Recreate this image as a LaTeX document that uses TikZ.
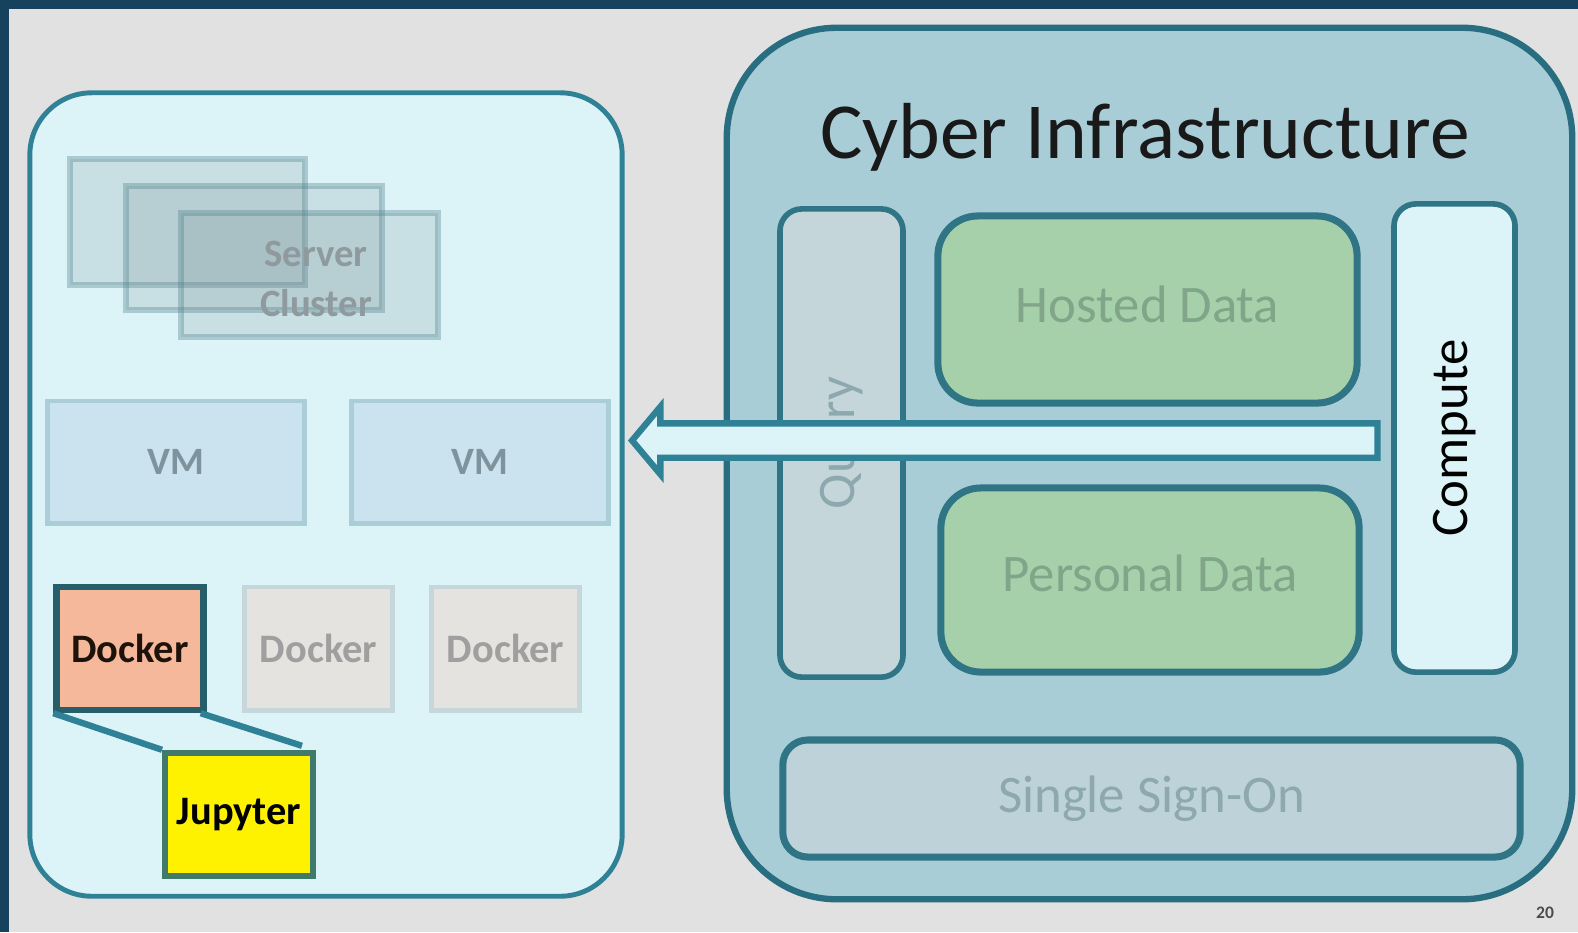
\documentclass[tikz,border=0pt]{standalone}
\usepackage{fontspec}
\setmainfont{Carlito}
\usetikzlibrary{positioning, shapes.arrows, calc}

\definecolor{slidegray}{HTML}{E1E1E1}
\definecolor{navy}{HTML}{17425E}
\definecolor{paleblue}{HTML}{DCF3F8}
\definecolor{tealline}{HTML}{2F8196}
\definecolor{ciblue}{HTML}{A8CDD7}
\definecolor{darkteal}{HTML}{2F7585}
\definecolor{querygray}{HTML}{C5D6DA}
\definecolor{datagreen}{HTML}{A6D0AA}
\definecolor{datatext}{HTML}{80A589}
\definecolor{ssofill}{HTML}{BDD3D9}
\definecolor{fadetext}{HTML}{8DA8AF}
\definecolor{vmfill}{HTML}{CBE3EF}
\definecolor{vmline}{HTML}{AACDD7}
\definecolor{vmtext}{HTML}{7E939C}
\definecolor{srvtext}{HTML}{8E9A9E}
\definecolor{dockgray}{HTML}{E5E3DF}
\definecolor{dockline}{HTML}{C5D7DB}
\definecolor{salmon}{HTML}{F5B89B}
\definecolor{jupline}{HTML}{3F7A6A}

\begin{document}
\begin{tikzpicture}[x=0.01cm, y=-0.01cm,
		panel/.style={draw=tealline, line width=1.4pt, fill=paleblue},
		cibox/.style={draw=darkteal, line width=1.6pt, rounded corners=0.22cm, font=\fontsize{15}{18}\selectfont},
		faint/.style={draw=vmline, line width=1.4pt, font=\fontsize{11}{13}\selectfont\bfseries},
		srv/.style={draw=tealline!60!gray, draw opacity=0.35, line width=1.5pt, fill=gray!80!teal, fill opacity=0.17, minimum width=2.56cm, minimum height=1.24cm},
		dock/.style={faint, draw=dockline, fill=dockgray, text=gray!75, minimum width=1.48cm, minimum height=1.23cm, font=\fontsize{11.5}{13}\selectfont\bfseries},
		strong/.style={draw=darkteal!80!black, line width=1.8pt, minimum width=1.47cm, minimum height=1.23cm, font=\fontsize{11.5}{13}\selectfont\bfseries}]
		
		\useasboundingbox (0,0) rectangle (1578,932);
		\fill [slidegray] (0,0) rectangle (1578,932);
		\fill [navy] (0,0) rectangle (1578,9);
		\fill [navy] (0,0) rectangle (9,932);
		
		% left side
		\node[panel, rounded corners=0.62cm, minimum width=5.92cm, minimum height=8.03cm] at (326,494.5) (host) {};
		
		\node[srv, minimum width=2.35cm, minimum height=1.26cm] at (187.5,222) (srvA) {};
		\node[srv] at (254,248) (srvB) {};
		\node[srv, minimum width=2.57cm] at (309.5,275) (srvC) {};
		\node[text=srvtext, font=\fontsize{11}{14}\selectfont\bfseries, align=center] at (316,279) (cluster) {Server\\Cluster};
		
		\node[faint, fill=vmfill, text=vmtext, minimum width=2.56cm, minimum height=1.22cm] at (176,462) (vmA) {VM};
		\node[faint, fill=vmfill, text=vmtext, minimum width=2.56cm, minimum height=1.22cm] at (480,462) (vmB) {VM};
		
		\node[strong, fill=salmon, text=black!85!brown] at (130,648.5) (dockA) {Docker};
		\node[dock] at (318.5,648.5) (dockB) {Docker};
		\node[dock] at (505.5,648.5) (dockC) {Docker};
		
		\node[strong, draw=jupline, fill=yellow, minimum width=1.46cm, minimum height=1.23cm] at (239,814.5) (jup) {Jupyter};
		\draw[tealline, line width=1.8pt] (dockA.south west) -- (jup.north west);
		\draw[tealline, line width=1.8pt] ($(dockA.south east)+(-6,0)$) -- ($(jup.north east)+(-14,-4)$);
		
		% right side
		\node[panel, fill=ciblue, draw=tealline!85!black, line width=1.8pt, rounded corners=1.1cm, minimum width=8.45cm, minimum height=8.71cm] at (1149.5,463.5) (ci) {};
		\node[font=\fontsize{22.6}{26}\selectfont, text=black!90] at (1145,137) (cititle) {Cyber Infrastructure};
		
		\node[cibox, fill=querygray, text=fadetext, rotate=90, minimum width=4.68cm, minimum height=1.23cm] at (841.5,443) (query) {Query};
		\node[cibox, fill=datagreen, text=datatext, rounded corners=0.4cm, line width=2pt, text depth=0.1cm, minimum width=4.19cm, minimum height=1.87cm] at (1147.5,309.5) (hosted) {Hosted Data};
		\node[cibox, fill=datagreen, text=datatext, rounded corners=0.4cm, line width=2pt, text depth=0.14cm, minimum width=4.18cm, minimum height=1.84cm] at (1150,580) (personal) {Personal Data};
		\node[cibox, fill=paleblue, text=black, rotate=90, minimum width=4.68cm, minimum height=1.21cm] at (1454.5,438) (compute) {Compute};
		\node[cibox, fill=ssofill, text=fadetext, rounded corners=0.25cm, line width=2pt, minimum width=7.37cm, minimum height=1.17cm] at (1151.5,798.5) (sso) {Single Sign-On};
		
		\node[single arrow, shape border rotate=180, draw=tealline, line width=1.8pt, fill=paleblue, inner xsep=0pt, inner ysep=0.14cm, single arrow head extend=0.165cm, single arrow tip angle=100, minimum height=7.45cm] at (1012,440.5) (pull) {};
		
		\node[font=\fontsize{5}{6}\selectfont\bfseries, text=black!70] at (1545,913) (pagenum) {20};
	\end{tikzpicture}
\end{document}
